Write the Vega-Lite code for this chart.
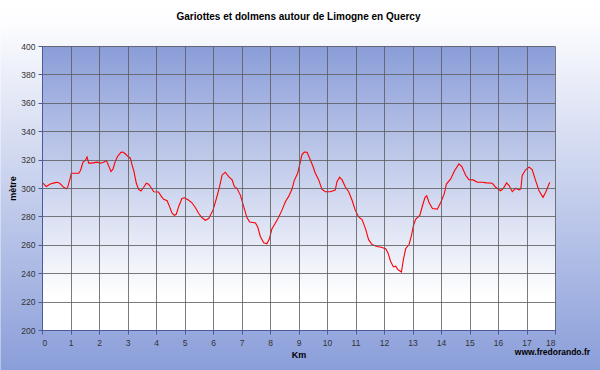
{
  "$schema": "https://vega.github.io/schema/vega-lite/v6.json",
  "autosize": {"type": "none"},
  "width": 513,
  "height": 284,
  "padding": {"left": 42, "top": 46, "right": 45, "bottom": 40},
  "background": "#ffffff",
  "title": {"text": "Gariottes et dolmens autour de Limogne en Quercy", "font": "Liberation Sans", "fontSize": 10, "fontWeight": "bold", "color": "#000000", "offset": -22},
  "config": {
    "view": {"stroke": "#a0a0a0", "strokeWidth": 1},
    "axis": {"zindex": 1, "grid": true, "labelFont": "Liberation Sans", "labelFontSize": 8.5, "labelColor": "#333333", "titleFont": "Liberation Sans", "titleFontSize": 9, "titleFontWeight": "bold", "titleColor": "#000000", "gridColor": "#5a5a5a", "gridOpacity": 0.8, "gridWidth": 1, "tickColor": "#4a5a9a", "tickSize": 4, "domainColor": "#4a5a9a", "domainWidth": 1, "labelOverlap": false},
    "axisX": {"tickCount": 18},
    "axisY": {"tickCount": 10}
  },
  "data": {"values": [
    {"km": 0, "m": 303.8}, {"km": 0.04, "m": 303.3}, {"km": 0.15, "m": 301}, {"km": 0.29, "m": 302.8}, {"km": 0.47, "m": 303.8}, {"km": 0.53, "m": 304}, {"km": 0.62, "m": 303.3}, {"km": 0.76, "m": 300.5}, {"km": 0.85, "m": 299.5}, {"km": 0.9, "m": 300.5}, {"km": 0.99, "m": 307}, {"km": 1.03, "m": 310.4}, {"km": 1.29, "m": 310.4}, {"km": 1.35, "m": 312.3}, {"km": 1.44, "m": 318.2}, {"km": 1.52, "m": 319.4}, {"km": 1.58, "m": 321.8}, {"km": 1.64, "m": 317.5}, {"km": 1.75, "m": 317.5}, {"km": 1.93, "m": 318.2}, {"km": 2.05, "m": 317.5}, {"km": 2.16, "m": 318.2}, {"km": 2.26, "m": 319.4}, {"km": 2.34, "m": 315.6}, {"km": 2.42, "m": 311.6}, {"km": 2.49, "m": 313.3}, {"km": 2.57, "m": 318.7}, {"km": 2.65, "m": 322.2}, {"km": 2.77, "m": 325.1}, {"km": 2.84, "m": 325.3}, {"km": 2.92, "m": 324.1}, {"km": 3.04, "m": 321.8}, {"km": 3.1, "m": 321}, {"km": 3.16, "m": 316.3}, {"km": 3.22, "m": 312.3}, {"km": 3.31, "m": 303.3}, {"km": 3.39, "m": 299}, {"km": 3.47, "m": 297.9}, {"km": 3.57, "m": 300.5}, {"km": 3.66, "m": 303.3}, {"km": 3.74, "m": 302.6}, {"km": 3.82, "m": 300.5}, {"km": 3.92, "m": 297.4}, {"km": 4.09, "m": 297.2}, {"km": 4.18, "m": 294.3}, {"km": 4.27, "m": 292}, {"km": 4.39, "m": 291}, {"km": 4.48, "m": 286.7}, {"km": 4.56, "m": 282.5}, {"km": 4.64, "m": 280.8}, {"km": 4.71, "m": 281.5}, {"km": 4.8, "m": 287.2}, {"km": 4.91, "m": 292.6}, {"km": 5, "m": 293.1}, {"km": 5.15, "m": 291.4}, {"km": 5.26, "m": 289.6}, {"km": 5.38, "m": 286.3}, {"km": 5.5, "m": 282}, {"km": 5.6, "m": 279.4}, {"km": 5.73, "m": 277.3}, {"km": 5.85, "m": 278.5}, {"km": 6, "m": 284.4}, {"km": 6.12, "m": 292.6}, {"km": 6.23, "m": 300.9}, {"km": 6.32, "m": 309.2}, {"km": 6.43, "m": 311.1}, {"km": 6.55, "m": 308}, {"km": 6.67, "m": 305.7}, {"km": 6.75, "m": 300.9}, {"km": 6.84, "m": 299.8}, {"km": 6.96, "m": 295}, {"km": 7.08, "m": 286.7}, {"km": 7.19, "m": 279.2}, {"km": 7.29, "m": 276.1}, {"km": 7.49, "m": 275.4}, {"km": 7.57, "m": 272.5}, {"km": 7.66, "m": 265.9}, {"km": 7.78, "m": 261.4}, {"km": 7.89, "m": 260.7}, {"km": 7.98, "m": 264.3}, {"km": 8.07, "m": 271.4}, {"km": 8.19, "m": 275.4}, {"km": 8.3, "m": 279.2}, {"km": 8.42, "m": 284.4}, {"km": 8.54, "m": 290.3}, {"km": 8.65, "m": 293.9}, {"km": 8.77, "m": 299.1}, {"km": 8.85, "m": 305.2}, {"km": 8.97, "m": 310.4}, {"km": 9.04, "m": 316.3}, {"km": 9.12, "m": 323.4}, {"km": 9.2, "m": 325.3}, {"km": 9.3, "m": 325.1}, {"km": 9.39, "m": 321}, {"km": 9.51, "m": 315.1}, {"km": 9.59, "m": 310.4}, {"km": 9.71, "m": 305.7}, {"km": 9.82, "m": 299.1}, {"km": 9.94, "m": 297.4}, {"km": 10.12, "m": 297.4}, {"km": 10.29, "m": 298.6}, {"km": 10.35, "m": 304.5}, {"km": 10.44, "m": 307.6}, {"km": 10.53, "m": 305.7}, {"km": 10.64, "m": 300.9}, {"km": 10.76, "m": 297.4}, {"km": 10.88, "m": 291.4}, {"km": 10.99, "m": 284.4}, {"km": 11.11, "m": 279.6}, {"km": 11.23, "m": 277.7}, {"km": 11.35, "m": 271.4}, {"km": 11.46, "m": 263.6}, {"km": 11.58, "m": 260.2}, {"km": 11.75, "m": 258.8}, {"km": 11.9, "m": 258.3}, {"km": 12.06, "m": 257.2}, {"km": 12.14, "m": 254.3}, {"km": 12.23, "m": 248.4}, {"km": 12.33, "m": 244.4}, {"km": 12.41, "m": 244.9}, {"km": 12.49, "m": 242.5}, {"km": 12.61, "m": 240.8}, {"km": 12.68, "m": 249.6}, {"km": 12.76, "m": 257.2}, {"km": 12.88, "m": 260.2}, {"km": 12.96, "m": 266.2}, {"km": 13.03, "m": 273.3}, {"km": 13.11, "m": 278}, {"km": 13.26, "m": 280.8}, {"km": 13.35, "m": 287.5}, {"km": 13.44, "m": 293.4}, {"km": 13.5, "m": 294.6}, {"km": 13.58, "m": 289.8}, {"km": 13.7, "m": 285.6}, {"km": 13.87, "m": 285.1}, {"km": 13.99, "m": 289.8}, {"km": 14.11, "m": 295.7}, {"km": 14.19, "m": 302.8}, {"km": 14.34, "m": 306.4}, {"km": 14.48, "m": 312.3}, {"km": 14.63, "m": 317}, {"km": 14.73, "m": 315.1}, {"km": 14.87, "m": 308.8}, {"km": 14.98, "m": 305.9}, {"km": 15.13, "m": 305.7}, {"km": 15.27, "m": 304}, {"km": 15.45, "m": 304}, {"km": 15.6, "m": 303.6}, {"km": 15.8, "m": 303.3}, {"km": 15.92, "m": 300.5}, {"km": 16.09, "m": 298.1}, {"km": 16.19, "m": 299.8}, {"km": 16.3, "m": 303.6}, {"km": 16.39, "m": 301.7}, {"km": 16.5, "m": 297.4}, {"km": 16.62, "m": 299.8}, {"km": 16.74, "m": 298.6}, {"km": 16.8, "m": 299.3}, {"km": 16.85, "m": 308.8}, {"km": 16.97, "m": 312.8}, {"km": 17.09, "m": 314.7}, {"km": 17.2, "m": 313}, {"km": 17.32, "m": 305.2}, {"km": 17.44, "m": 298.1}, {"km": 17.58, "m": 293.4}, {"km": 17.67, "m": 296.9}, {"km": 17.79, "m": 302.8}, {"km": 17.82, "m": 304}
  ]},
  "layer": [
    {
      "data": {"values": [{}]},
      "mark": {"type": "rect", "clip": false, "color": {"gradient": "linear", "x1": 0, "y1": 0, "x2": 0, "y2": 1, "stops": [{"offset": 0, "color": "#ffffff"}, {"offset": 0.06, "color": "#fdfdff"}, {"offset": 1, "color": "#8a9ed9"}]}},
      "encoding": {
        "x": {"datum": -1.46, "type": "quantitative", "scale": {"domain": [0, 18], "nice": false, "zero": false}, "axis": {"zindex": 1, "grid": true, "title": "Km", "tickCount": 18, "titlePadding": 4, "labelPadding": 4}},
        "x2": {"datum": 19.6},
        "y": {"datum": 432.4, "type": "quantitative", "scale": {"domain": [200, 400], "nice": false, "zero": false}, "axis": {"zindex": 1, "grid": true, "title": "mètre", "tickCount": 10, "titlePadding": 3, "labelPadding": 3}},
        "y2": {"datum": 171.8}
      }
    },
    {
      "data": {"values": [{}]},
      "mark": {"type": "rect", "color": {"gradient": "linear", "x1": 0, "y1": 0, "x2": 0, "y2": 1, "stops": [{"offset": 0, "color": "#8a9dd8"}, {"offset": 0.88, "color": "#ffffff"}, {"offset": 1, "color": "#ffffff"}]}},
      "encoding": {
        "x": {"datum": 0, "type": "quantitative"},
        "x2": {"datum": 18},
        "y": {"datum": 400, "type": "quantitative"},
        "y2": {"datum": 200}
      }
    },
    {
      "mark": {"type": "line", "color": "#ff0000", "strokeWidth": 1.1, "clip": true},
      "encoding": {
        "x": {"field": "km", "type": "quantitative"},
        "y": {"field": "m", "type": "quantitative"}
      }
    },
    {
      "data": {"values": [{}]},
      "mark": {"type": "text", "text": "www.fredorando.fr", "align": "right", "baseline": "middle", "font": "Liberation Sans", "fontSize": 8.5, "fontWeight": "bold", "color": "#000000", "clip": false},
      "encoding": {
        "x": {"datum": 19.23, "type": "quantitative"},
        "y": {"datum": 184.5, "type": "quantitative"}
      }
    }
  ]
}
